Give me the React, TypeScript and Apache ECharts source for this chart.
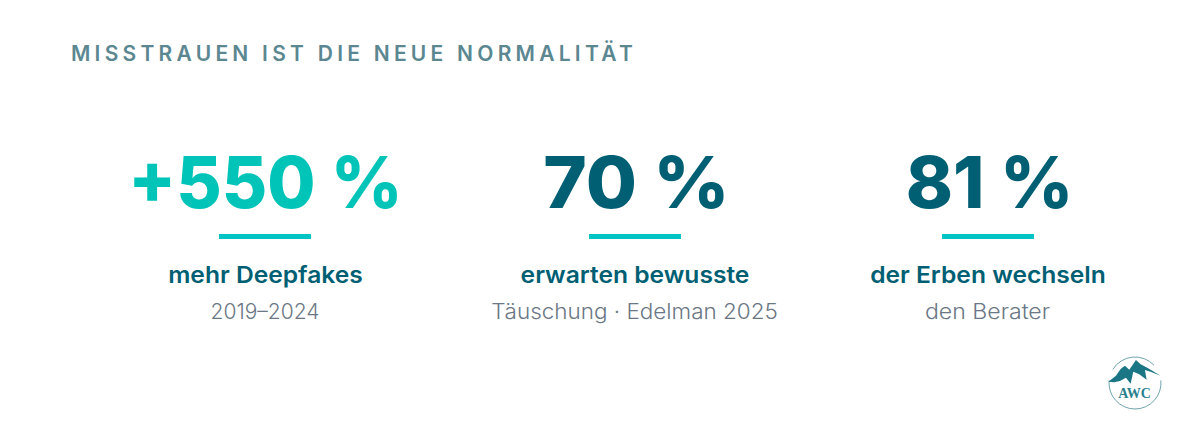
import React, { useEffect, useRef } from "react";
import * as echarts from "echarts";

const heading = "MISSTRAUEN IST DIE NEUE NORMALITÄT";
const figures = ["+550 %", "70 %", "81 %"];
const captions = ["mehr Deepfakes", "erwarten bewusste", "der Erben wechseln"];
const notes = ["2019–2024", "Täuschung · Edelman 2025", "den Berater"];
const figureColors = ["#00C4B8", "#005F73", "#005F73"];
const logoText = "AWC";

// layout
const centers = [265.5, 635, 988];
const figureShift = [0, 1.5, 1.5];
const ruleLeft = [219, 589, 942];
const figureStretch = [0.97, 1.03, 0.99];
const noteStretch = [1.0, 1.07, 1.1];

const FONT = "Inter, 'Open Sans', sans-serif";
const TEAL = "#00C4C4";
const DARK = "#005F73";

echarts.graphic.registerShape(
  "awcPeaks",
  echarts.graphic.extendPath(
    "M55 110 L78 92 L92 72 L105 62 L118 74 L138 45 L152 58 L172 68 L212 92 L182 80 L165 75 L170 104 L148 88 L130 80 L122 116 L108 98 L90 108 L72 112 Z",
    {}
  )
);

export default function App() {
  const ref = useRef<HTMLDivElement>(null);
  useEffect(() => {
    document.body.style.margin = "0";
    document.body.style.background = "#fff";
    const chart = echarts.init(ref.current!, null, { renderer: "svg" });
    const elements: any[] = [
      {
        type: "text",
        x: 71,
        y: 53,
        style: { text: heading, font: `600 21px ${FONT}`, fill: "#5B8791", textAlign: "left", textVerticalAlign: "middle" },
      },
    ];
    figures.forEach((f, i) => {
      const cx = centers[i];
      elements.push(
        { type: "text", x: cx + figureShift[i], y: 182, scaleX: figureStretch[i], style: { text: f, font: `800 72px ${FONT}`, fill: figureColors[i], textAlign: "center", textVerticalAlign: "middle" } },
        { type: "rect", shape: { x: ruleLeft[i], y: 234, width: 92, height: 5 }, style: { fill: TEAL } },
        { type: "text", x: cx, y: 275, scaleX: 1.07, style: { text: captions[i], font: `600 23px ${FONT}`, fill: DARK, textAlign: "center", textVerticalAlign: "middle" } },
        { type: "text", x: cx - 0.5, y: 311, scaleX: noteStretch[i], style: { text: notes[i], font: `300 21px ${FONT}`, fill: "#6B7785", textAlign: "center", textVerticalAlign: "middle" } }
      );
    });
    elements.push(
      { type: "arc", shape: { cx: 1135, cy: 383, r: 26, startAngle: -0.1, endAngle: Math.PI + 0.1 }, style: { stroke: "#6FA3AC", lineWidth: 1, fill: "none" } },
      { type: "arc", shape: { cx: 1135, cy: 383, r: 26, startAngle: Math.PI + 0.55, endAngle: Math.PI * 2 - 0.75 }, style: { stroke: "#6FA3AC", lineWidth: 1, fill: "none" } },
      { type: "awcPeaks", x: 1090, y: 345, scaleX: 1 / 3, scaleY: 1 / 3, style: { fill: "#1A7585" } },
      { type: "text", x: 1134.5, y: 393, style: { text: logoText, font: "700 14px 'Liberation Serif', serif", fill: "#2A7F8E", textAlign: "center", textVerticalAlign: "middle" } }
    );
    chart.setOption({ animation: false, backgroundColor: "#fff", graphic: { elements } });
    ref.current!.querySelectorAll("text").forEach((t) => {
      if (t.textContent === heading) t.setAttribute("letter-spacing", "4.25");
    });
    return () => chart.dispose();
  }, []);
  return <div ref={ref} style={{ width: 1200, height: 445 }} />;
}
